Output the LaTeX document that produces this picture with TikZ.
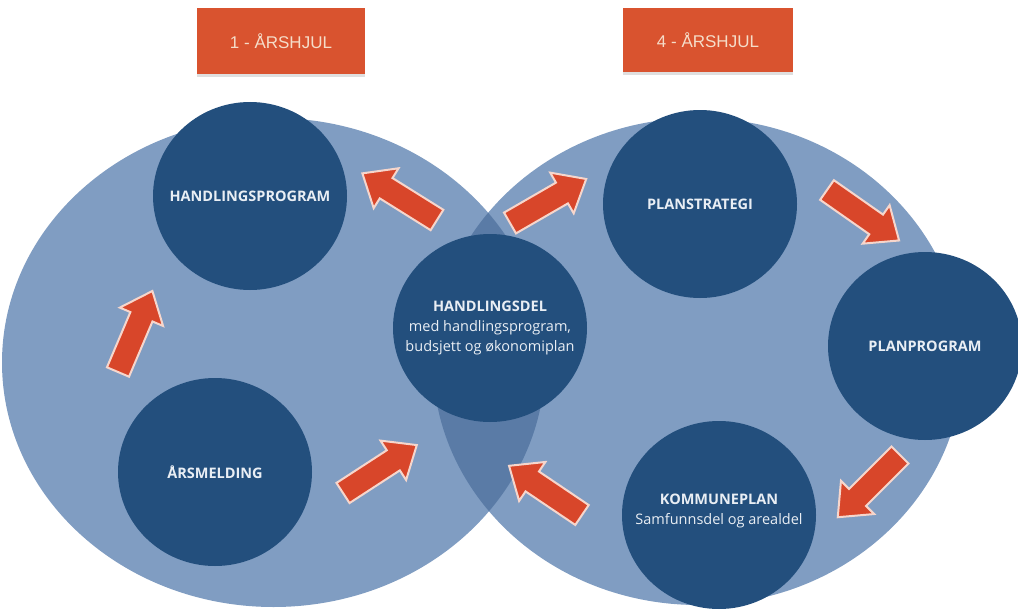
\documentclass[tikz,border=0pt]{standalone}
\usepackage{fontspec}
\setmainfont{Open Sans}
\newfontfamily\boxfont{Liberation Sans}
\usetikzlibrary{shapes.geometric,shapes.arrows,shadows}
\definecolor{wheelblue}{HTML}{809DC2}
\definecolor{lensblue}{HTML}{5A7BA6}
\definecolor{darkblue}{HTML}{234F7D}
\definecolor{arrowred}{HTML}{D8462A}
\definecolor{rimpink}{HTML}{F6D6CC}
\definecolor{boxred}{HTML}{D9532F}
\definecolor{boxtext}{HTML}{F5DDC9}
\definecolor{softwhite}{HTML}{E9EEF4}
\begin{document}
\begin{tikzpicture}[x=1pt,y=-1pt,inner sep=0pt,outer sep=0pt,
wheel/.style={ellipse,fill=wheelblue,minimum width=543pt,minimum height=489pt},
stage/.style={ellipse,fill=darkblue,minimum width=194pt,minimum height=188pt},
caption/.style={text=softwhite,align=center,font=\fontsize{14.5}{20}\selectfont},
flow/.style={single arrow,fill=arrowred,draw=rimpink,line width=2pt,minimum height=88pt,minimum width=45pt,inner sep=11pt,single arrow head extend=11.5pt,single arrow tip angle=80,anchor=tail},
tag/.style={rectangle,fill=boxred,minimum width=168pt,minimum height=66pt,text=boxtext,font=\boxfont\fontsize{17}{20}\selectfont,drop shadow={shadow xshift=0pt,shadow yshift=-3pt,opacity=0.25}}]

\useasboundingbox (0,0) rectangle (1018,610);

\draw (273.5,362.5) node[wheel] (w1) {};
\draw (698,361.5) node[wheel,minimum width=530pt,minimum height=487pt] (w4) {};
\begin{scope}
\clip (w1.center) ellipse [x radius=271.5, y radius=244.5];
\fill[lensblue] (w4.center) ellipse [x radius=265, y radius=243.5];
\end{scope}

\draw (250,196) node[stage,label={[caption]center:\textbf{HANDLINGSPROGRAM}}] (hprog) {};
\draw (215,472) node[stage,label={[caption]center:\textbf{ÅRSMELDING}}] (aars) {};
\draw (490,328) node[stage,label={[caption]center:\textbf{HANDLINGSDEL}\\med handlingsprogram,\\budsjett og økonomiplan}] (hdel) {};
\draw (700,204) node[stage,label={[caption]center:\textbf{PLANSTRATEGI}}] (pstrat) {};
\draw (925,346) node[stage,label={[caption]center:\textbf{PLANPROGRAM}}] (pprog) {};
\draw (719,515) node[stage,label={[caption,yshift=4pt]center:\textbf{KOMMUNEPLAN}\\Samfunnsdel og arealdel}] (kplan) {};

\draw (118,372) node[flow,rotate=67] (f1) {};
\draw (437,220) node[flow,rotate=148] (f2) {};
\draw (343,493) node[flow,rotate=33] (f3) {};
\draw (582,515) node[flow,rotate=146] (f4) {};
\draw (510,223) node[flow,rotate=30] (f5) {};
\draw (827,190) node[flow,rotate=-35] (f6) {};
\draw (900,455) node[flow,rotate=-135] (f7) {};

\draw (281,41) node[tag] (t1) {1 - ÅRSHJUL};
\draw (708,40) node[tag,minimum width=170pt,minimum height=64pt] (t4) {4 - ÅRSHJUL};

\end{tikzpicture}
\end{document}
